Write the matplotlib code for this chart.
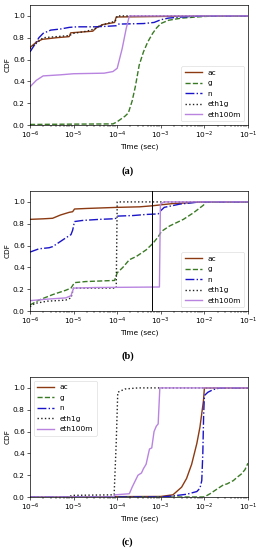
import matplotlib
matplotlib.use("Agg")
import matplotlib.pyplot as plt

FS = 5.3
plt.rcParams.update({
    "font.size": FS,
    "axes.linewidth": 0.5,
    "xtick.major.width": 0.45, "ytick.major.width": 0.45,
    "xtick.minor.width": 0.35, "ytick.minor.width": 0.35,
    "xtick.major.size": 1.9, "ytick.major.size": 1.9,
    "xtick.minor.size": 1.1, "ytick.minor.size": 1.1,
    "xtick.major.pad": 1.8, "ytick.major.pad": 1.8,
    "legend.fontsize": FS,
})

series_names = ["ac", "g", "n", "eth1g", "eth100m"]
colors = {"ac": "#8b3a12", "g": "#3a7a25", "n": "#1a14c8", "eth1g": "#222222", "eth100m": "#b884e0"}
styles = {"ac": "-", "g": "--", "n": "-.", "eth1g": ":", "eth100m": "-"}

# ---- panel (a) ----
a_ac_x = [1e-6, 1.4e-6, 1.9e-6, 4e-6, 7.9e-6, 8.6e-6, 2.75e-5, 3.3e-5, 4.6e-5, 8.7e-5, 9.5e-5, 1e-3, 1e-2, 1e-1]
a_ac_y = [0.71, 0.76, 0.785, 0.80, 0.81, 0.845, 0.86, 0.89, 0.92, 0.94, 0.99, 0.995, 1.0, 1.0]
a_g_x = [1e-6, 1e-5, 8e-5, 1e-4, 1.5e-4, 1.8e-4, 2.2e-4, 2.6e-4, 3.2e-4, 4e-4, 5e-4, 6.5e-4, 8e-4, 1e-3, 1.5e-3, 3e-3, 1e-2, 2e-2, 1e-1]
a_g_y = [0.005, 0.008, 0.01, 0.03, 0.08, 0.11, 0.22, 0.35, 0.55, 0.67, 0.76, 0.84, 0.89, 0.93, 0.96, 0.98, 0.995, 1.0, 1.0]
a_n_x = [1e-6, 1.3e-6, 1.6e-6, 2e-6, 3e-6, 5e-6, 8e-6, 1.2e-5, 3e-5, 6e-5, 9.5e-5, 1.05e-4, 4e-4, 7e-4, 1e-3, 1.5e-3, 3e-3, 1e-2, 1e-1]
a_n_y = [0.67, 0.74, 0.80, 0.84, 0.87, 0.88, 0.895, 0.90, 0.90, 0.905, 0.91, 0.925, 0.93, 0.94, 0.965, 0.98, 0.99, 1.0, 1.0]
a_e1_x = [1e-6, 1.5e-6, 2e-6, 4e-6, 8e-6, 1e-5, 2e-5, 3e-5, 4e-5, 7e-5, 9e-5, 1e-4, 1e-1]
a_e1_y = [0.70, 0.76, 0.80, 0.81, 0.82, 0.84, 0.86, 0.88, 0.91, 0.94, 0.95, 1.0, 1.0]
a_e100_x = [1e-6, 1.4e-6, 2e-6, 5e-6, 1e-5, 5e-5, 8e-5, 1e-4, 1.3e-4, 1.6e-4, 1.9e-4, 1e-1]
a_e100_y = [0.35, 0.41, 0.45, 0.46, 0.47, 0.475, 0.49, 0.52, 0.70, 0.88, 1.0, 1.0]

# ---- panel (b) ----
b_ac_x = [1e-6, 2e-6, 3.3e-6, 5e-6, 8e-6, 9.5e-6, 1.05e-5, 2e-5, 1e-4, 3.3e-4, 6.6e-4, 1.1e-3, 1.9e-3, 3.5e-3, 8e-3, 1e-1]
b_ac_y = [0.84, 0.845, 0.85, 0.88, 0.905, 0.91, 0.935, 0.94, 0.95, 0.955, 0.965, 0.975, 0.985, 0.99, 1.0, 1.0]
b_g_x = [1e-6, 1.6e-6, 3.3e-6, 6.6e-6, 8.7e-6, 1.05e-5, 1.9e-5, 8.7e-5, 1.0e-4, 1.35e-4, 1.9e-4, 2.75e-4, 4.6e-4, 6.6e-4, 8.7e-4, 1.04e-3, 1.6e-3, 3.3e-3, 5.6e-3, 9.5e-3, 1.1e-2, 1e-1]
b_g_y = [0.055, 0.10, 0.15, 0.19, 0.21, 0.26, 0.27, 0.28, 0.35, 0.40, 0.47, 0.50, 0.56, 0.62, 0.68, 0.73, 0.78, 0.84, 0.90, 0.97, 1.0, 1.0]
b_n_x = [1e-6, 1.6e-6, 2.75e-6, 3.3e-6, 4.3e-6, 6.6e-6, 8.7e-6, 9.5e-6, 1.05e-5, 1.6e-5, 3.9e-5, 7.9e-5, 9.5e-5, 1.03e-4, 2.3e-4, 4.6e-4, 8.7e-4, 1e-3, 1.2e-3, 2.75e-3, 7.9e-3, 1e-1]
b_n_y = [0.54, 0.57, 0.58, 0.59, 0.62, 0.67, 0.70, 0.74, 0.82, 0.83, 0.84, 0.845, 0.85, 0.87, 0.875, 0.885, 0.89, 0.92, 0.95, 0.98, 1.0, 1.0]
b_e1_x = [1e-6, 1.3e-6, 2.5e-6, 6.6e-6, 8.7e-6, 1.0e-5, 9.5e-5, 1.0e-4, 1e-1]
b_e1_y = [0.04, 0.07, 0.09, 0.10, 0.12, 0.21, 0.21, 1.0, 1.0]
b_e100_x = [1e-6, 2.75e-6, 6.6e-6, 8.7e-6, 1.0e-5, 3e-5, 9.3e-4, 9.8e-4, 1.2e-3, 1e-1]
b_e100_y = [0.095, 0.11, 0.12, 0.14, 0.21, 0.215, 0.22, 0.98, 1.0, 1.0]
b_vline = 6.2e-4

# ---- panel (c) ----
c_ac_x = [1e-6, 1e-3, 1.9e-3, 3e-3, 3.9e-3, 5.1e-3, 6.7e-3, 7.9e-3, 9.5e-3, 1e-2, 1e-1]
c_ac_y = [0.0, 0.005, 0.02, 0.09, 0.17, 0.30, 0.49, 0.64, 0.88, 1.0, 1.0]
c_g_x = [1e-6, 9.5e-3, 1.1e-2, 1.35e-2, 1.9e-2, 2.7e-2, 3.3e-2, 4.6e-2, 5.6e-2, 7e-2, 8.5e-2, 1e-1]
c_g_y = [0.0, 0.0, 0.01, 0.03, 0.07, 0.11, 0.12, 0.15, 0.18, 0.21, 0.25, 0.31]
c_n_x = [1e-6, 1e-3, 1.9e-3, 3.9e-3, 6.7e-3, 7.9e-3, 8.7e-3, 9.2e-3, 9.6e-3, 1e-2, 1.2e-2, 1.6e-2, 2.3e-2, 1e-1]
c_n_y = [0.0, 0.0, 0.01, 0.025, 0.05, 0.08, 0.15, 0.40, 0.75, 0.93, 0.96, 0.985, 1.0, 1.0]
c_e1_x = [1e-6, 8e-6, 9e-6, 8.5e-5, 9.5e-5, 1.03e-4, 1.5e-4, 3e-4, 1e-1]
c_e1_y = [0.0, 0.0, 0.015, 0.02, 0.5, 0.96, 0.99, 1.0, 1.0]
c_e100_x = [1e-6, 8e-5, 9e-5, 1.9e-4, 2.2e-4, 3e-4, 3.6e-4, 4e-4, 4.6e-4, 5.5e-4, 6.2e-4, 7e-4, 7.9e-4, 8.7e-4, 9.5e-4, 1e-1]
c_e100_y = [0.0, 0.0, 0.02, 0.03, 0.09, 0.20, 0.22, 0.26, 0.30, 0.44, 0.45, 0.60, 0.65, 0.67, 1.0, 1.0]

panels = [
    {"data": {"ac": (a_ac_x, a_ac_y), "g": (a_g_x, a_g_y), "n": (a_n_x, a_n_y),
              "eth1g": (a_e1_x, a_e1_y), "eth100m": (a_e100_x, a_e100_y)},
     "loc": "lower right", "cap": "(a)", "bottom": 425 / 550, "cap_y": 1 - 171 / 550, "vline": None},
    {"data": {"ac": (b_ac_x, b_ac_y), "g": (b_g_x, b_g_y), "n": (b_n_x, b_n_y),
              "eth1g": (b_e1_x, b_e1_y), "eth100m": (b_e100_x, b_e100_y)},
     "loc": "lower right", "cap": "(b)", "bottom": 239 / 550, "cap_y": 1 - 356 / 550, "vline": b_vline},
    {"data": {"ac": (c_ac_x, c_ac_y), "g": (c_g_x, c_g_y), "n": (c_n_x, c_n_y),
              "eth1g": (c_e1_x, c_e1_y), "eth100m": (c_e100_x, c_e100_y)},
     "loc": "upper left", "cap": "(c)", "bottom": 53 / 550, "cap_y": 1 - 542 / 550, "vline": None},
]

fig = plt.figure(figsize=(2.58, 5.5), dpi=100)
left = 30 / 258
width = 218 / 258
height = 120 / 550

for p in panels:
    ax = fig.add_axes([left, p["bottom"], width, height])
    for name in series_names:
        xs, ys = p["data"][name]
        ax.plot(xs, ys, linestyle=styles[name], color=colors[name], lw=1.0, label=name)
    if p["vline"] is not None:
        ax.axvline(p["vline"], color="black", lw=0.7)
    ax.set_xscale("log")
    ax.set_xlim(1e-6, 1e-1)
    ax.set_ylim(0, 1.1)
    ax.set_yticks([0.0, 0.2, 0.4, 0.6, 0.8, 1.0])
    ax.set_yticklabels(["0.0", "0.2", "0.4", "0.6", "0.8", "1.0"])
    ax.set_xlabel("Time (sec)", labelpad=1.5)
    ax.set_ylabel("CDF", labelpad=2)
    leg = ax.legend(loc=p["loc"], frameon=True, framealpha=0.8, borderpad=0.45,
                    labelspacing=0.6, handlelength=2.3, handletextpad=0.8)
    leg.get_frame().set_linewidth(0.4)
    fig.text(0.495, p["cap_y"], p["cap"], ha="center", va="center",
             family="Liberation Serif", fontweight="bold", fontsize=7.5)

fig.savefig("out.png", dpi=100)
